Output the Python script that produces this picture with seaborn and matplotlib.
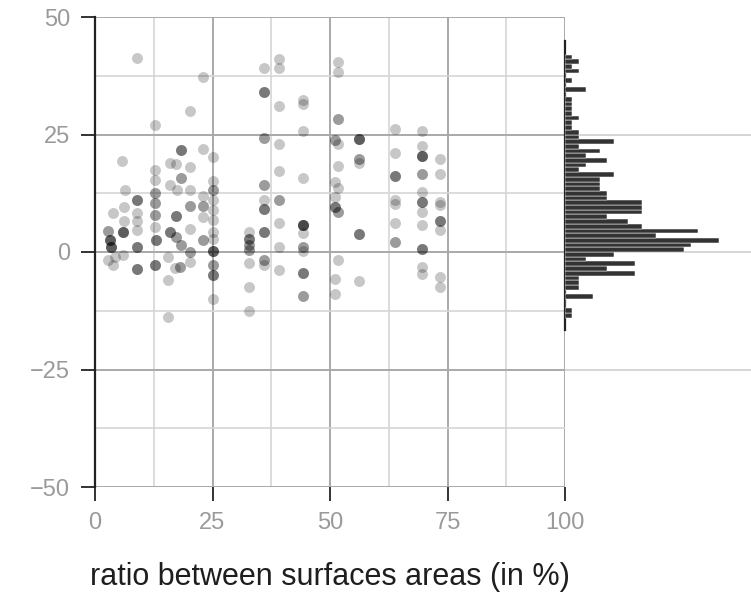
import numpy as np
import pandas as pd
import matplotlib
matplotlib.use("Agg")
import matplotlib.pyplot as plt
import seaborn as sns

# Scatter observations: ratio (%) vs value; n_obs = number of identical observations
ratio = [
    2.8, 3.2, 3.5, 3.9, 2.8, 3.9, 4.3,
    6.0, 6.4, 6.2, 6.2, 6.0, 5.7,
    8.9, 8.9, 8.9, 8.9, 8.9, 8.9, 8.9,
    12.8, 12.8, 12.8, 12.8, 12.8, 12.8, 12.8, 13.0, 12.8,
    16.0, 16.0, 17.2, 16.0, 17.2, 18.4, 15.6, 15.6, 15.6, 17.4, 18.2, 17.2, 18.4, 18.1, 17.0,
    20.2, 20.2, 20.2, 20.2, 20.2, 20.2, 20.2,
    23.0, 23.0, 23.0, 23.0, 23.0, 23.0,
    25.0, 25.0, 25.0, 25.0, 25.0, 25.0, 25.0, 25.0, 25.0, 25.0, 25.0, 25.0,
    32.7, 32.7, 32.7, 32.7, 32.7, 32.7, 32.7,
    36.0, 36.0, 36.0, 36.0, 36.0, 36.0, 36.0, 36.0, 36.0,
    39.1, 39.1, 39.1, 39.1, 39.1, 39.1, 39.1, 39.1, 39.1,
    44.3, 44.3, 44.3, 44.3, 44.3, 44.3, 44.3, 44.3, 44.3, 44.3,
    51.8, 51.8, 51.8, 51.1, 51.8, 51.8, 51.1, 51.8, 51.1, 51.1, 51.8, 51.8, 51.1, 51.1,
    56.2, 56.2, 56.2, 56.2, 56.2,
    63.8, 63.8, 63.8, 63.8, 63.8, 63.8, 63.8,
    69.5, 69.5, 69.5, 69.5, 69.5, 69.5, 69.5, 69.5, 69.5, 69.5, 69.5,
    73.4, 73.4, 73.4, 73.4, 73.4, 73.4, 73.4, 73.4,
]
value = [
    4.5, 2.6, 1.1, 8.2, -1.7, -2.8, -1.0,
    4.2, 13.2, 9.6, 6.5, -0.6, 19.4,
    41.2, 11.1, 8.2, 6.5, 4.7, 1.1, -3.7,
    27.0, 17.4, 15.3, 12.6, 10.5, 7.9, 5.4, 2.6, -2.8,
    18.9, 14.3, 7.7, 4.3, 3.1, 1.5, -1.0, -6.0, -13.8, 13.2, 21.8, 18.7, 15.8, -3.1, -3.5,
    29.9, 18.1, 13.2, 9.8, 5.0, 0.0, -2.1,
    37.2, 22.0, 12.0, 9.8, 7.5, 2.6,
    20.3, 15.2, 13.2, 11.1, 9.0, 6.8, 4.3, 2.7, 0.2, -2.8, -4.9, -9.9,
    4.2, 2.8, 1.5, 0.4, -2.4, -7.4, -12.6,
    39.1, 34.1, 24.2, 14.3, 11.1, 9.1, 4.2, -1.7, -2.8,
    41.0, 39.1, 31.1, 23.0, 17.2, 11.1, 6.1, 1.1, -3.9,
    32.3, 31.4, 25.7, 15.7, 5.7, 4.0, 1.1, 0.3, -4.4, -9.4,
    40.5, 38.4, 28.2, 23.8, 23.0, 18.4, 15.0, 13.7, 11.7, 9.5, 8.5, -1.7, -5.8, -8.9,
    24.0, 19.7, 19.0, 3.8, -6.2,
    26.1, 21.1, 16.2, 11.0, 10.2, 6.2, 2.2,
    25.7, 22.5, 20.4, 16.6, 12.8, 10.7, 8.6, 5.7, 0.6, -3.1, -4.6,
    19.7, 16.7, 10.7, 10.0, 6.7, 4.7, -5.3, -7.4,
]
n_obs = [
    2, 4, 4, 1, 1, 1, 1,
    4, 1, 1, 1, 1, 1,
    1, 3, 1, 1, 1, 3, 3,
    1, 1, 1, 2, 2, 2, 1, 3, 3,
    1, 1, 3, 3, 2, 2, 1, 1, 1, 1, 3, 1, 2, 2, 1,
    1, 1, 1, 2, 1, 2, 1,
    1, 1, 1, 2, 1, 2,
    1, 1, 2, 1, 1, 1, 1, 1, 4, 2, 3, 1,
    1, 3, 2, 2, 1, 1, 1,
    1, 3, 2, 2, 1, 3, 3, 2, 1,
    1, 1, 1, 1, 1, 2, 1, 1, 1,
    1, 1, 1, 1, 5, 1, 2, 1, 3, 2,
    1, 1, 2, 2, 1, 1, 1, 1, 1, 3, 2, 1, 1, 1,
    4, 2, 1, 3, 1,
    1, 1, 3, 1, 1, 1, 2,
    1, 1, 4, 2, 1, 3, 1, 1, 3, 1, 1,
    1, 1, 1, 1, 3, 1, 1, 1,
]

# Marginal distribution of value: unit-width bins starting at these lower edges
hist_lower = list(range(-14, 42))
hist_counts = [
    1, 1, 0, 0, 4, 0, 2, 2, 2, 10, 6, 10, 3, 7,          # -14 .. -1
    17, 18, 22, 13, 19, 11, 9, 6, 11, 11, 11, 6, 6, 5,   # 0 .. 13
    5, 5, 7, 2, 3, 6, 3, 5, 2, 7, 2, 2, 1, 1,            # 14 .. 27
    2, 1, 1, 1, 1, 0, 3, 0, 1, 0, 2, 1, 2, 1,            # 28 .. 41
]

x_ticks = [0, 25, 50, 75, 100]
y_ticks = [-50, -25, 0, 25, 50]
x_label = "ratio between surfaces areas (in %)"

df = pd.DataFrame({
    "ratio": np.repeat(ratio, n_obs),
    "value": np.repeat(value, n_obs),
})

sns.set_theme(style="white")
plt.rcParams["font.family"] = ["Liberation Sans", "DejaVu Sans"]
plt.rcParams["axes.unicode_minus"] = True

W, H = 751, 598
fig = plt.figure(figsize=(W / 100, H / 100), dpi=100)
fig.patch.set_facecolor("white")

left, right_main, top, bottom = 95, 565, 17, 487
ax = fig.add_axes([left / W, 1 - bottom / H, (right_main - left) / W, (bottom - top) / H])
ax_h = fig.add_axes([right_main / W, 1 - bottom / H, (W - right_main) / W, (bottom - top) / H])

major_c, minor_c = "#a9a9a9", "#d6d6d6"

# --- main scatter ---
sns.scatterplot(data=df, x="ratio", y="value", ax=ax, color="black",
                alpha=0.22, s=62, linewidth=0, zorder=3)
ax.set_xlim(0, 100)
ax.set_ylim(-50, 50)
ax.set_xticks(x_ticks)
ax.set_yticks(y_ticks)
ax.set_xticks([12.5, 37.5, 62.5, 87.5], minor=True)
ax.set_yticks([-37.5, -12.5, 12.5, 37.5], minor=True)
ax.grid(which="major", color=major_c, linewidth=1.4)
ax.grid(which="minor", color=minor_c, linewidth=1.2)
ax.set_axisbelow(True)
for side in ["top", "right", "bottom"]:
    ax.spines[side].set_visible(False)
ax.spines["left"].set_color("#222222")
ax.spines["left"].set_linewidth(1.6)
ax.tick_params(which="major", bottom=True, left=True, direction="out",
               length=10, width=1.4, color="#333333",
               labelcolor="#9a9a9a", labelsize=17, pad=8)
ax.tick_params(which="minor", bottom=False, left=False, length=0)
ax.set_xticklabels([str(t) for t in x_ticks])
ax.set_yticklabels([str(t).replace("-", "\u2212") for t in y_ticks])
ax.set_xlabel(x_label, fontsize=22, color="#1e1e1e", labelpad=20)
ax.set_ylabel("")

# --- marginal histogram ---
edges = hist_lower + [hist_lower[-1] + 1]
centers = [b + 0.5 for b in hist_lower]
sns.histplot(y=centers, weights=hist_counts, bins=edges, ax=ax_h,
             color="#333333", alpha=1, edgecolor="#ffffff", linewidth=0.35, zorder=3)
ax_h.set_ylim(-50, 50)
ax_h.set_xlim(0, 26.5)
ax_h.set_yticks([-25, 0, 25])
ax_h.set_xticks([])
ax_h.grid(axis="y", color="#d2d2d2", linewidth=1.3)
ax_h.set_axisbelow(True)
ax_h.tick_params(left=False, bottom=False, length=0, labelleft=False)
ax_h.set_xlabel("")
ax_h.set_ylabel("")
for side in ["top", "right", "bottom"]:
    ax_h.spines[side].set_visible(False)
ax_h.spines["left"].set_color("#222222")
ax_h.spines["left"].set_linewidth(1.6)
ax_h.spines["left"].set_bounds(-16.5, 45)
ax_h.patch.set_alpha(0)

fig.savefig("out.png", dpi=100)
